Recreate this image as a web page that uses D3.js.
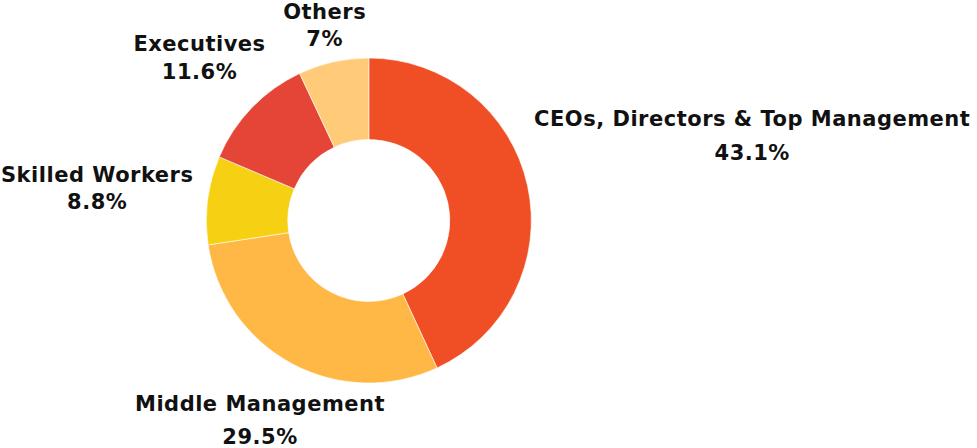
<!DOCTYPE html>
<html>
<head>
<meta charset="utf-8">
<script src="https://cdn.jsdelivr.net/npm/d3@7"></script>
<style>
  html, body { margin: 0; padding: 0; background: #fff; }
  svg { display: block; }
  .lbl { font-family: "DejaVu Sans", sans-serif; font-weight: 700; font-size: 21px; letter-spacing: 0.5px; fill: #111; }
</style>
</head>
<body>
<svg id="chart"></svg>
<script>
var categories = ["CEOs, Directors & Top Management", "Middle Management", "Skilled Workers", "Executives", "Others"];
var shares = [43.1, 29.5, 8.8, 11.6, 7];
var shareLabels = ["43.1%", "29.5%", "8.8%", "11.6%", "7%"];
var colors = ["#F04E25", "#FFB845", "#F5D013", "#E44536", "#FFCB78"];

// label nudges from the default "outside" spot, and line gap
var labelLayout = [
  { dx: 0, dy: -42.5, gap: 33.5 },
  { dx: 33, dy: 25, gap: 33 },
  { dx: -3, dy: -8, gap: 26.5 },
  { dx: 4, dy: -27, gap: 28 },
  { dx: 3, dy: -5, gap: 26.5 }
];

var width = 977, height = 448;
var cx = 368.8, cy = 220.5;
var outerR = 162.5, innerR = 81;
var capH = 15;

var svg = d3.select("#chart").attr("width", width).attr("height", height);
var g = svg.append("g").attr("transform", "translate(" + cx + "," + cy + ")");

var pie = d3.pie().sort(null).value(function (d) { return d; });
var arcs = pie(shares);
var arc = d3.arc().innerRadius(innerR).outerRadius(outerR);

g.selectAll("path.slice")
  .data(arcs)
  .enter().append("path")
  .attr("class", "slice")
  .attr("d", arc)
  .attr("fill", function (d, i) { return colors[i]; })
  .attr("stroke", "#fff")
  .attr("stroke-width", 0.6);

var labels = g.selectAll("g.lbl-g")
  .data(arcs)
  .enter().append("g")
  .attr("class", "lbl-g");

labels.each(function (d, i) {
  var sel = d3.select(this);
  var lay = labelLayout[i];
  var t1 = sel.append("text").attr("class", "lbl").attr("text-anchor", "middle").text(categories[i]);
  var t2 = sel.append("text").attr("class", "lbl").attr("text-anchor", "middle").text(shareLabels[i]);
  var w = Math.max(t1.node().getComputedTextLength(), t2.node().getComputedTextLength());
  var h = lay.gap + capH;
  var a = (d.startAngle + d.endAngle) / 2;
  var r = outerR + 12;
  var ax = r * Math.sin(a), ay = -r * Math.cos(a);
  var bx = ax + Math.sin(a) * w / 2 + lay.dx;
  var by = ay - Math.cos(a) * h / 2 + lay.dy;
  var b1 = by - (lay.gap - capH) / 2;
  t1.attr("x", bx).attr("y", b1);
  t2.attr("x", bx).attr("y", b1 + lay.gap);
});
</script>
</body>
</html>
